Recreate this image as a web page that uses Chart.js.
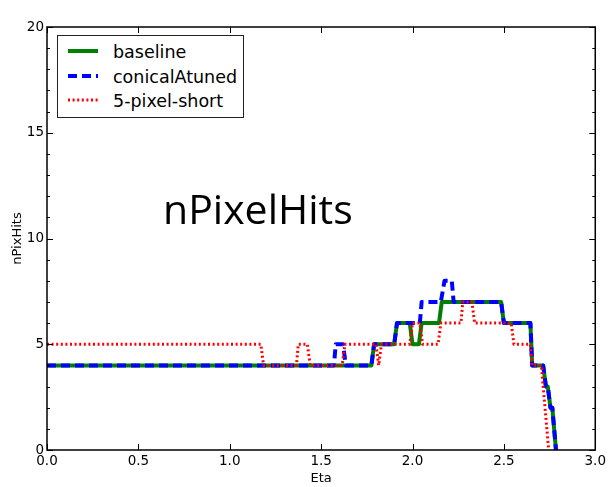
<!DOCTYPE html>
<html>
<head>
<meta charset="utf-8">
<script src="https://cdn.jsdelivr.net/npm/chart.js@4"></script>
<style>
  body { margin: 0; background: #fff; }
  #wrap { position: relative; width: 609px; height: 487px; }
  #legend {
    position: absolute; left: 57px; top: 35px; width: 185px; height: 81px;
    border: 1px solid #222; background: #fff;
    font-family: "DejaVu Sans", sans-serif; font-size: 17.5px; color: #000;
  }
  .legend-item { position: absolute; left: 0; height: 24px; width: 185px; }
  .legend-item svg { position: absolute; left: 9px; top: 0; }
  .legend-item span { position: absolute; left: 55px; top: 1px; line-height: 22px; }
  #bigLabel {
    position: absolute; left: 163px; top: 180px;
    font-family: "Open Sans", sans-serif; font-size: 41px; color: #000;
  }
</style>
</head>
<body>
<div id="wrap">
  <canvas id="hitsChart" width="609" height="487"></canvas>
  <div id="legend"></div>
  <div id="bigLabel">nPixelHits</div>
</div>
<script>
// ticks
const xTicks = [0, 0.5, 1.0, 1.5, 2.0, 2.5, 3.0];
const yLabels = [0, 5, 10, 15, 20];

// baseline
const baselineEta  = [0, 1.775, 1.79, 1.90, 1.915, 1.985, 2.0, 2.035, 2.05, 2.145, 2.16, 2.485, 2.50, 2.645, 2.655, 2.715, 2.73, 2.74, 2.755, 2.765, 2.785];
const baselineHits = [4, 4,     5,    5,    6,     6,     5,   5,     6,    6,     7,    7,     6,    6,     4,     4,     3,    3,    2,     2,     0];

// conicalAtuned
const conicalEta  = [0, 1.57, 1.58, 1.62, 1.635, 1.775, 1.79, 1.90, 1.915, 2.04, 2.05, 2.155, 2.175, 2.215, 2.225, 2.485, 2.50, 2.645, 2.655, 2.715, 2.73, 2.74, 2.755, 2.765, 2.785];
const conicalHits = [4, 4,    5,    5,    4,     4,     5,    5,    6,     6,    7,    7,     8,     8,     7,     7,     6,    6,     4,     4,     3,    3,    2,     2,     0];

// 5-pixel-short
const shortEta  = [0, 1.17, 1.185, 1.365, 1.375, 1.425, 1.44, 1.615, 1.63, 1.80, 1.815, 1.83, 1.985, 2.0, 2.04, 2.055, 2.14, 2.155, 2.265, 2.275, 2.325, 2.34, 2.54, 2.555, 2.645, 2.655, 2.705, 2.715, 2.725, 2.735, 2.745];
const shortHits = [5, 5,    4,     4,     5,     5,     4,    4,     5,    5,    4,     5,    5,     6,   6,    5,     5,    6,     6,     7,     7,     6,    6,    5,     5,     4,     4,     3,     2,     1,     0];

const series = [
  { label: 'baseline',      eta: baselineEta, hits: baselineHits, color: '#008000', width: 4, dash: [],     order: 3 },
  { label: 'conicalAtuned', eta: conicalEta,  hits: conicalHits,  color: '#0000ff', width: 4, dash: [9, 5], order: 2 },
  { label: '5-pixel-short', eta: shortEta,    hits: shortHits,    color: '#ff0000', width: 3, dash: [2, 2.6], order: 1 }
];

const tickFont = { family: 'DejaVu Sans', size: 13.5 };

// frame with inward ticks on all four sides
const frameTicks = {
  id: 'frameTicks',
  afterDatasetsDraw(chart) {
    const { ctx, chartArea: a, scales } = chart;
    ctx.save();
    ctx.strokeStyle = '#000';
    ctx.lineWidth = 1;
    ctx.beginPath();
    xTicks.forEach(v => {
      const px = Math.round(scales.x.getPixelForValue(v)) + 0.5;
      ctx.moveTo(px, a.bottom); ctx.lineTo(px, a.bottom - 6);
      ctx.moveTo(px, a.top); ctx.lineTo(px, a.top + 6);
    });
    for (let v = 0; v <= 20; v++) {
      const len = v % 5 === 0 ? 6 : 3;
      const py = Math.round(scales.y.getPixelForValue(v)) + 0.5;
      ctx.moveTo(a.left, py); ctx.lineTo(a.left + len, py);
      ctx.moveTo(a.right, py); ctx.lineTo(a.right - len, py);
    }
    ctx.stroke();
    ctx.lineWidth = 1.5;
    ctx.strokeRect(a.left, a.top, a.right - a.left, a.bottom - a.top);
    ctx.restore();
  }
};

const ctx = document.getElementById('hitsChart').getContext('2d');
new Chart(ctx, {
  type: 'line',
  data: {
    datasets: series.map(s => ({
      label: s.label,
      data: s.eta.map((x, i) => ({ x, y: s.hits[i] })),
      borderColor: s.color,
      borderWidth: s.width,
      borderDash: s.dash,
      borderCapStyle: 'butt',
      borderJoinStyle: 'round',
      pointRadius: 0,
      tension: 0,
      fill: false,
      order: s.order
    }))
  },
  options: {
    responsive: false,
    animation: false,
    layout: { padding: { left: 0, right: 12, top: 27, bottom: 1 } },
    plugins: { legend: { display: false }, tooltip: { enabled: false } },
    scales: {
      x: {
        type: 'linear', min: 0, max: 3,
        afterBuildTicks: s => { s.ticks = xTicks.map(v => ({ value: v })); },
        ticks: { font: tickFont, color: '#000', padding: 3, maxRotation: 0, callback: v => v.toFixed(1) },
        grid: { display: false, drawTicks: false },
        border: { display: false },
        title: { display: true, text: 'Eta', font: { family: 'DejaVu Sans', size: 13 }, color: '#000', padding: 0 },
        afterFit: s => { s.height = 36; }
      },
      y: {
        min: 0, max: 20,
        afterBuildTicks: s => { s.ticks = yLabels.map(v => ({ value: v })); },
        ticks: { font: tickFont, color: '#000', padding: 3 },
        grid: { display: false, drawTicks: false },
        border: { display: false },
        title: { display: true, text: 'nPixHits', font: { family: 'DejaVu Sans', size: 13 }, color: '#000', padding: { top: 10, bottom: 0 } },
        afterFit: s => { s.width = 47; }
      }
    }
  },
  plugins: [frameTicks]
});

// legend drawn by hand
const legendBox = document.getElementById('legend');
series.forEach((s, i) => {
  const item = document.createElement('div');
  item.classList.add('legend-item');
  item.style.top = (4 + i * 24.5) + 'px';
  const dash = s.dash.length ? `stroke-dasharray="${s.dash.join(' ')}"` : '';
  item.innerHTML = `
    <svg width="32" height="22"><line x1="1" y1="11" x2="31" y2="11" stroke="${s.color}" stroke-width="${s.width}" ${dash}/></svg>
    <span>${s.label}</span>
  `;
  legendBox.appendChild(item);
});
</script>
</body>
</html>
